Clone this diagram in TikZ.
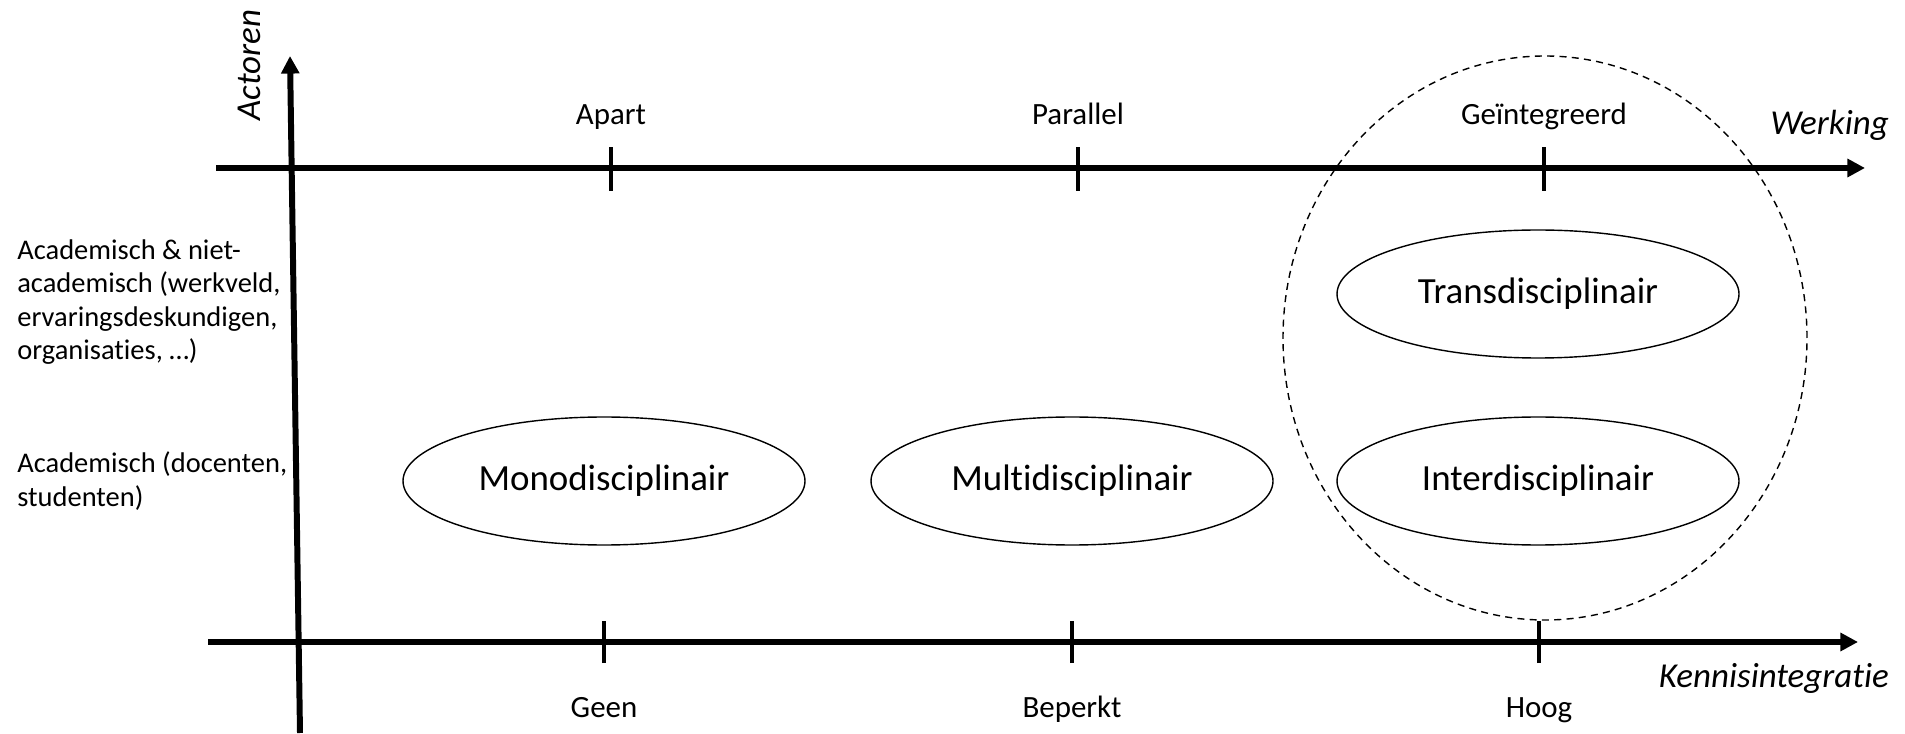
\documentclass[tikz,border=0pt]{standalone}
\usepackage{fontspec}
\setmainfont[Ligatures={NoCommon}]{Carlito}
\usepackage{tikz}
\usetikzlibrary{positioning, arrows.meta, shapes}

\begin{document}
\begin{tikzpicture}[
    % Define specific styles to match the drawing
    axis/.style={
        line width=3.4pt,
        -{Triangle[length=10pt,width=10pt]}
    },
    tickmark/.style={
        line width=2.6pt
    },
    approach/.style={
        ellipse,
        draw=black,
        line width=0.8pt,
        minimum width=8.04cm,
        minimum height=2.56cm,
        inner sep=0pt,
        font=\fontsize{21}{25}\selectfont
    },
    groupring/.style={
        ellipse,
        draw=black,
        line width=0.8pt,
        dash pattern=on 4pt off 3pt,
        minimum width=10.48cm,
        minimum height=11.28cm,
        inner sep=0pt
    },
    ticklabel/.style={
        anchor=base,
        font=\fontsize{17.6}{21}\selectfont
    },
    axistitle/.style={
        anchor=base east,
        font=\fontsize{19.9}{24}\selectfont\itshape
    },
    actorlevel/.style={
        anchor=west,
        align=left,
        inner sep=0pt,
        font=\fontsize{16.2}{19}\selectfont
    }
]

    \useasboundingbox (0,0) rectangle (38.1,14.66);

    % --- Axes ---
    \coordinate (vstart) at (6.00,0);
    \coordinate (vend) at (5.80,13.54);
    \coordinate (wstart) at (4.32,11.30);
    \coordinate (wend) at (37.30,11.30);
    \coordinate (kstart) at (4.16,1.82);
    \coordinate (kend) at (37.16,1.82);

    \draw[axis] (vstart) -- (vend);
    \draw[axis] (wstart) -- (wend);
    \draw[axis] (kstart) -- (kend);

    % --- Axis titles ---
    \node[axistitle, anchor=center, rotate=90] (actoren) at (4.98,13.36) {Actoren};
    \node[axistitle] (werking) at (37.90,11.96) {Werking};
    \node[axistitle] (kennis) at (37.90,0.92) {Kennisintegratie};

    % --- Ticks on the Werking axis ---
    \foreach \x/\name/\txt in {12.22/apart/Apart, 21.56/parallel/Parallel, 30.88/geint/Geïntegreerd} {
        \draw[tickmark] (\x,10.84) -- (\x,11.72);
        \node[ticklabel] (\name) at (\x,12.16) {\txt};
    }

    % --- Ticks on the Kennisintegratie axis ---
    \foreach \x/\name/\txt in {12.08/geen/Geen, 21.44/beperkt/Beperkt, 30.78/hoog/Hoog} {
        \draw[tickmark] (\x,1.40) -- (\x,2.24);
        \node[ticklabel] (\name) at (\x,0.32) {\txt};
    }

    % --- Actor levels ---
    \node[actorlevel] (mixed) at (0.34,8.62) {Academisch \& niet-\\academisch (werkveld,\\ervaringsdeskundigen,\\organisaties, …)};
    \node[actorlevel] (academic) at (0.34,5.04) {Academisch (docenten,\\studenten)};

    % --- Approaches ---
    \node[approach] (mono) at (12.08,5.04) {Monodisciplinair};
    \node[approach] (multi) at (21.44,5.04) {Multidisciplinair};
    \node[approach] (inter) at (30.76,5.04) {Interdisciplinair};
    \node[approach] (trans) at (30.76,8.78) {Transdisciplinair};

    % Integrated group
    \node[groupring] (integr) at (30.90,7.90) {};

\end{tikzpicture}
\end{document}
